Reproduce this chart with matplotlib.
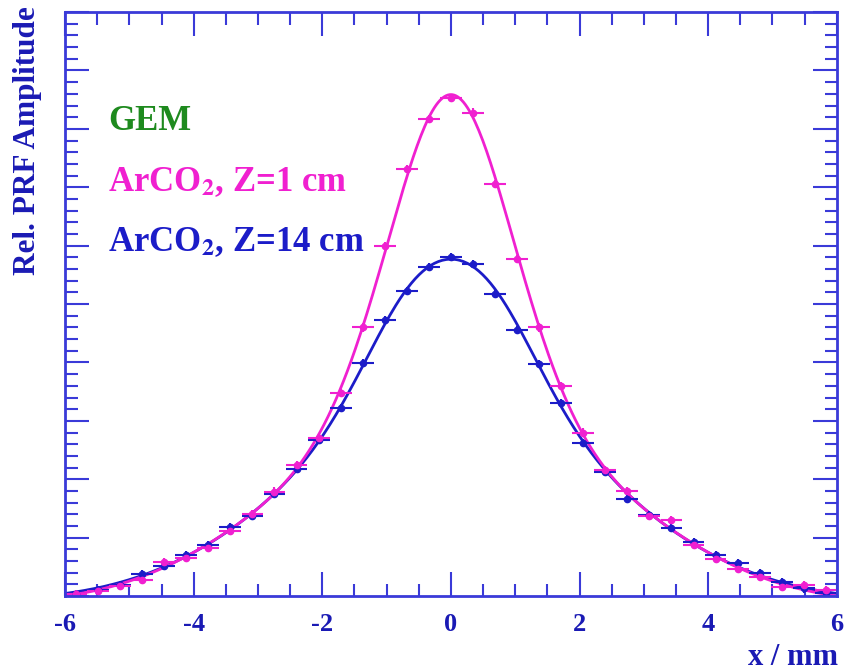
import numpy as np
import matplotlib.pyplot as plt
from matplotlib.ticker import MultipleLocator

# posicoes dos pads (mm)
k = np.arange(-17, 18)
x = k * 0.343

# Z = 1 cm (rosa)
y_z1 = np.array([0.03, 0.08, 0.17, 0.28, 0.58, 0.65, 0.83, 1.12, 1.40, 1.79,
                 2.25, 2.70, 3.48, 4.60, 6.00, 7.31, 8.17, 8.53, 8.28, 7.05,
                 5.77, 4.60, 3.60, 2.80, 2.16, 1.80, 1.37, 1.30, 0.87, 0.64,
                 0.47, 0.33, 0.16, 0.19, 0.10])
# Z = 14 cm (azul)
y_z14 = np.array([0.04, 0.10, 0.19, 0.37, 0.52, 0.70, 0.88, 1.18, 1.37, 1.75,
                  2.18, 2.67, 3.22, 3.99, 4.73, 5.23, 5.63, 5.80, 5.68, 5.18,
                  4.55, 3.98, 3.31, 2.62, 2.12, 1.67, 1.38, 1.17, 0.93, 0.70,
                  0.56, 0.39, 0.24, 0.13, 0.05])

x_err = 0.17
y_err = 0.07

pink = '#f020d0'
blue = '#1c1cc8'
frame = '#3a3ad8'
label_blue = '#1a1ab4'


def gauss(s):
    return lambda t: np.exp(-t**2 / (2 * s**2))


# minimos quadrados com base fixa de gaussianas
base = [gauss(0.6), gauss(1.0), gauss(1.6), gauss(2.6), gauss(4.0)]


def mmq(xd, yd, f):
    F = np.ones((len(xd), len(f)))
    for j in range(len(f)):
        F[:, j] = f[j](xd)
    C = np.linalg.solve(F.T @ F, F.T @ yd)
    return C


def modelo(C, t):
    out = np.zeros_like(t)
    for j in range(len(base)):
        out = out + C[j] * base[j](t)
    return out


X = np.linspace(-6, 6, 400)
C1 = mmq(x, y_z1, base)
C14 = mmq(x, y_z14, base)

plt.rcParams['font.family'] = ['Liberation Serif', 'DejaVu Serif']
plt.rcParams['mathtext.fontset'] = 'stix'
plt.rcParams['axes.unicode_minus'] = False
fig = plt.figure(figsize=(8.46, 6.72), dpi=100)
ax = fig.add_axes([0.077, 0.113, 0.912, 0.869])

ax.plot(X, modelo(C14, X), '-', color=blue, lw=2)
ax.plot(X, modelo(C1, X), '-', color=pink, lw=2)
ax.errorbar(x, y_z14, xerr=x_err, yerr=y_err, fmt='o', color=blue, ms=4.5, elinewidth=1.5, capsize=0)
ax.errorbar(x, y_z1, xerr=x_err, yerr=y_err, fmt='o', color=pink, ms=4.5, elinewidth=1.5, capsize=0)

ax.set_xlim(-6, 6)
ax.set_ylim(0, 10)
ax.xaxis.set_major_locator(MultipleLocator(2))
ax.xaxis.set_minor_locator(MultipleLocator(0.5))
ax.yaxis.set_major_locator(MultipleLocator(1))
ax.yaxis.set_minor_locator(MultipleLocator(0.2))
ax.tick_params(which='both', direction='in', top=True, right=True, color=frame, width=1.5)
ax.tick_params(which='major', length=17)
ax.tick_params(which='minor', length=9)
ax.tick_params(axis='x', labelsize=19, labelcolor=label_blue, pad=12)
ax.tick_params(axis='y', labelleft=False)
for lab in ax.get_xticklabels():
    lab.set_fontweight('bold')
for s in ax.spines.values():
    s.set_color(frame)
    s.set_linewidth(2)

fig.text(0.99, 0.022, 'x / mm', ha='right', va='center', fontsize=22, fontweight='bold', color=label_blue)
fig.text(0.033, 0.99, 'Rel. PRF Amplitude', rotation=90, ha='center', va='top', fontsize=22.5,
         fontweight='bold', color=label_blue)

ax.text(0.056, 0.812, 'GEM', transform=ax.transAxes, fontsize=25, fontweight='bold', color='#1e8a1e', va='center')
ax.text(0.056, 0.709, r'ArCO$_\mathbf{2}$, Z=1 cm', transform=ax.transAxes, fontsize=25, fontweight='bold',
        color=pink, va='center')
ax.text(0.056, 0.606, r'ArCO$_\mathbf{2}$, Z=14 cm', transform=ax.transAxes, fontsize=25, fontweight='bold',
        color=blue, va='center')

fig.savefig('out.png', dpi=100)
